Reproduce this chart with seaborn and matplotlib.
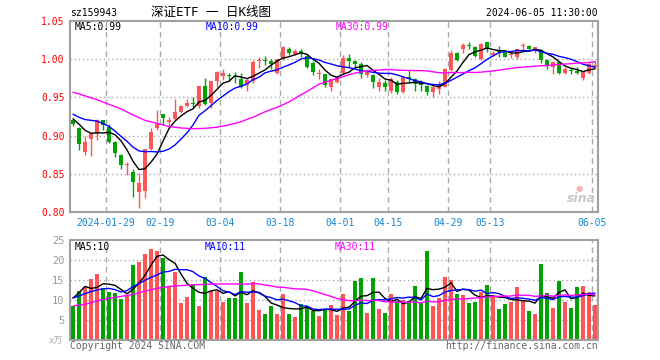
import numpy as np
import pandas as pd
import matplotlib
matplotlib.use("Agg")
import matplotlib.pyplot as plt
import seaborn as sns

# ---------------- data ----------------
opens = [0.920, 0.910, 0.879, 0.8955, 0.902, 0.920, 0.911, 0.892, 0.875, 0.861,
         0.853, 0.8266, 0.828, 0.882, 0.9096, 0.928, 0.918, 0.922, 0.931, 0.939,
         0.943, 0.9387, 0.965, 0.943, 0.972, 0.978, 0.979, 0.978, 0.9737, 0.966,
         0.971, 0.998, 0.999, 0.997, 0.982, 1.000, 1.0133, 1.007, 1.011, 1.004,
         0.9955, 0.981, 0.9806, 0.964, 0.9706, 0.9815, 1.001, 0.998, 0.994, 0.979,
         0.979, 0.963, 0.969, 0.959, 0.9706, 0.9575, 0.977, 0.974, 0.970, 0.965,
         0.9566, 0.961, 0.964, 0.986, 1.0086, 1.013, 1.0182, 1.0155, 1.000, 1.022,
         1.0055, 1.0102, 1.010, 1.0052, 1.0033, 1.0171, 1.0173, 1.0129, 1.012, 0.999,
         0.9894, 0.9968, 0.9824, 0.985, 0.985, 0.975, 0.9824, 0.990]
highs = [0.922, 0.911, 0.900, 0.905, 0.922, 0.921, 0.915, 0.893, 0.876, 0.866,
         0.856, 0.851, 0.8825, 0.910, 0.9335, 0.9285, 0.925, 0.948, 0.940, 0.948,
         0.951, 0.965, 0.975, 0.9715, 0.984, 0.987, 0.982, 0.983, 0.9816, 0.975,
         0.999, 1.003, 1.004, 1.000, 1.000, 1.017, 1.016, 1.013, 1.014, 1.005,
         0.997, 0.987, 0.981, 0.974, 0.978, 1.005, 1.007, 0.999, 0.996, 0.987,
         0.981, 0.976, 0.973, 0.977, 0.973, 0.978, 0.986, 0.975, 0.973, 0.966,
         0.965, 0.971, 0.988, 1.012, 1.010, 1.0216, 1.022, 1.017, 1.021, 1.023,
         1.011, 1.0173, 1.011, 1.010, 1.014, 1.021, 1.018, 1.016, 1.013, 1.000,
         0.998, 0.998, 0.990, 0.989, 0.9895, 0.985, 0.996, 0.997]
lows = [0.913, 0.881, 0.874, 0.873, 0.894, 0.907, 0.890, 0.872, 0.856, 0.848,
        0.819, 0.805, 0.818, 0.881, 0.907, 0.914, 0.910, 0.920, 0.929, 0.937,
        0.936, 0.936, 0.940, 0.9365, 0.964, 0.973, 0.972, 0.969, 0.962, 0.959,
        0.969, 0.989, 0.992, 0.987, 0.981, 0.999, 1.005, 1.005, 1.003, 0.988,
        0.979, 0.974, 0.964, 0.959, 0.969, 0.981, 0.990, 0.989, 0.976, 0.977,
        0.962, 0.959, 0.958, 0.956, 0.955, 0.956, 0.969, 0.958, 0.958, 0.953,
        0.951, 0.955, 0.963, 0.985, 0.998, 1.008, 1.013, 1.003, 0.999, 1.010,
        1.004, 1.0033, 1.0025, 1.001, 0.9998, 1.012, 1.012, 1.008, 0.995, 0.987,
        0.981, 0.981, 0.981, 0.980, 0.981, 0.973, 0.981, 0.988]
closes = [0.915, 0.8885, 0.892, 0.902, 0.921, 0.914, 0.892, 0.877, 0.862, 0.862,
          0.839, 0.8376, 0.8825, 0.905, 0.915, 0.9235, 0.920, 0.931, 0.939, 0.943,
          0.942, 0.965, 0.9414, 0.9715, 0.983, 0.982, 0.978, 0.977, 0.9632, 0.973,
          0.9967, 0.999, 0.998, 0.994, 1.000, 1.0164, 1.0077, 1.011, 1.007, 0.990,
          0.9837, 0.982, 0.966, 0.9737, 0.977, 1.002, 0.997, 0.994, 0.981, 0.985,
          0.9706, 0.9706, 0.963, 0.9737, 0.9575, 0.977, 0.9737, 0.9675, 0.966, 0.9575,
          0.963, 0.966, 0.9867, 1.0086, 0.999, 1.0186, 1.0175, 1.004, 1.020, 1.0134,
          1.0086, 1.0097, 1.0033, 1.0058, 1.013, 1.0176, 1.013, 1.0155, 0.999, 0.991,
          0.9968, 0.9824, 0.9867, 0.9845, 0.9815, 0.984, 0.9937, 0.993]
volumes = [8.4, 12.25, 13.25, 15.3, 16.5, 12.9, 11.9, 11.7, 10.2, 11.0,
           18.7, 19.4, 21.6, 22.7, 22.2, 20.4, 13.5, 17.1, 9.2, 10.8,
           14.0, 8.5, 15.8, 12.3, 12.3, 9.5, 10.5, 10.5, 16.9, 9.2,
           14.6, 7.5, 6.4, 8.6, 6.6, 11.4, 6.4, 5.8, 8.9, 8.6,
           7.2, 6.1, 7.5, 8.7, 6.2, 11.4, 7.2, 14.7, 15.4, 6.7,
           15.4, 7.7, 6.7, 11.4, 9.7, 9.9, 9.7, 13.4, 9.2, 22.2,
           8.4, 10.4, 15.7, 14.9, 11.4, 11.2, 9.2, 9.4, 11.9, 13.7,
           10.9, 7.7, 8.9, 9.4, 13.2, 9.9, 7.2, 6.4, 18.9, 11.7,
           7.9, 14.7, 9.4, 7.9, 13.2, 13.4, 11.9, 8.7]

# moving-average values visible before each window is complete
ma5_head = [0.922, 0.915, 0.907, 0.903]
ma10_head = [0.928, 0.924, 0.921, 0.920, 0.919, 0.916, 0.912, 0.906, 0.899]
ma30_head_x = [0, 2, 4, 6, 8, 10, 12, 14, 16, 18, 20, 22, 24, 26, 28]
ma30_head = [0.957, 0.952, 0.947, 0.941, 0.935, 0.927, 0.920, 0.916, 0.912, 0.910,
             0.909, 0.9095, 0.911, 0.914, 0.918]
vma5_head = [10.5, 11.8, 13.4, 12.9]
vma10_head = [10.5, 11.0, 11.6, 12.1, 12.5, 12.8, 12.9, 12.6, 12.0]
vma30_head_x = [0, 2, 4, 6, 8, 10, 12, 14, 16, 18, 20, 22, 24, 26, 28]
vma30_head = [8.5, 8.9, 9.8, 10.4, 10.9, 11.4, 12.2, 12.9, 13.4, 13.6,
              13.8, 13.9, 14.0, 14.0, 14.0]

tick_pos = [6, 15, 25, 35, 45, 53, 63, 70, 87]
tick_labels = ["2024-01-29", "02-19", "03-04", "03-18", "04-01", "04-15",
               "04-29", "05-13", "06-05"]
price_ticks = [0.80, 0.85, 0.90, 0.95, 1.00, 1.05]
vol_ticks = [5, 10, 15, 20, 25]
legend_price = ["MA5:0.99", "MA10:0.99", "MA30:0.99"]
legend_vol = ["MA5:10", "MA10:11", "MA30:11"]
title_code = "sz159943"
title_main = "深证ETF 一 日K线图"
title_time = "2024-06-05 11:30:00"

# ---------------- styling ----------------
sns.set_style("white")
plt.rcParams["font.family"] = ["DejaVu Sans Mono", "Noto Sans CJK SC"]

RED = "#ff5555"
GREEN = "#00a300"
GRID = "#aaaaaa"
FRAME = "#a0a0a0"
MA_COLORS = ["#000000", "#0000ff", "#ff00ff"]

W, H = 660, 360
fig = plt.figure(figsize=(W / 100, H / 100), dpi=100)
fig.patch.set_facecolor("white")


def fx(px):
    return px / W


def fy(py):
    return 1 - py / H


ax = fig.add_axes([fx(70), fy(212), fx(528), 191 / H])
axv = fig.add_axes([fx(70), fy(340), fx(528), 100 / H])

n = len(closes)
x = np.arange(n)
o = np.array(opens)
c = np.array(closes)
up = c >= o
cols = np.where(up, RED, GREEN)

df = pd.DataFrame({"x": x, "open": o, "high": highs, "low": lows, "close": c,
                   "vol": volumes, "dir": np.where(up, "up", "down")})


def ma_frame(values, window, head_x, head_y):
    s = pd.Series(values).rolling(window).mean()
    tail_x = list(range(window - 1, len(values)))
    tail_y = list(s.iloc[window - 1:].values)
    return pd.DataFrame({"x": list(head_x) + tail_x, "y": list(head_y) + tail_y})


# ---------------- price panel ----------------
for p in [0.85, 0.90, 0.95, 1.00]:
    ax.axhline(p, color=GRID, lw=1, ls=(0, (1, 2)), zorder=0)
for t in tick_pos:
    ax.axvline(t - 0.5, color=GRID, lw=1, ls=(0, (4, 3)), zorder=0)

ax.vlines(df["x"], df["low"], df["high"], colors=cols, lw=1, zorder=2)
body_bottom = np.minimum(o, c)
body_h = np.maximum(np.abs(c - o), 0.0013)
ax.bar(df["x"], body_h, bottom=body_bottom, width=0.8, color=cols, linewidth=0, zorder=3)

ma_specs = [(5, ma5_head, list(range(4))), (10, ma10_head, list(range(9))),
            (30, ma30_head, ma30_head_x)]
for (win, head, hx), col in zip(ma_specs, MA_COLORS):
    d = ma_frame(closes, win, hx, head)
    sns.lineplot(data=d, x="x", y="y", color=col, lw=1, ax=ax, estimator=None,
                 sort=False, zorder=4)

ax.set_xlim(-0.5, n - 0.5)
ax.set_ylim(0.80, 1.05)
ax.set_yticks(price_ticks)
ax.set_yticklabels([f"{v:.2f}" for v in price_ticks], color="#ff0000", fontsize=7)
ax.set_xticks([t - 0.5 for t in tick_pos])
ax.set_xticklabels(tick_labels, color="#1a86d0", fontsize=7)
ax.tick_params(axis="both", length=0, pad=4)
ax.set_xlabel("")
ax.set_ylabel("")
for sp in ax.spines.values():
    sp.set_color(FRAME)
    sp.set_linewidth(1.5)

# ---------------- volume panel ----------------
for v in [5, 10, 15, 20]:
    axv.axhline(v, color=GRID, lw=1, ls=(0, (1, 2)), zorder=0)
for t in tick_pos:
    axv.axvline(t - 0.5, color=GRID, lw=1, ls=(0, (4, 3)), zorder=0)

sns.barplot(data=df, x="x", y="vol", hue="dir", palette={"up": RED, "down": GREEN},
            native_scale=True, dodge=False, width=0.83, saturation=1, legend=False,
            linewidth=0, ax=axv, zorder=2)

vma_specs = [(5, vma5_head, list(range(4))), (10, vma10_head, list(range(9))),
             (30, vma30_head, vma30_head_x)]
for (win, head, hx), col in zip(vma_specs, MA_COLORS):
    d = ma_frame(volumes, win, hx, head)
    sns.lineplot(data=d, x="x", y="y", color=col, lw=1, ax=axv, estimator=None,
                 sort=False, zorder=4)

axv.set_xlim(-0.5, n - 0.5)
axv.set_ylim(0, 25)
axv.set_yticks(vol_ticks)
axv.set_yticklabels([str(v) for v in vol_ticks], color="#999999", fontsize=7.5)
axv.set_xticks([])
axv.tick_params(axis="both", length=0, pad=4)
axv.set_xlabel("")
axv.set_ylabel("")
for sp in axv.spines.values():
    sp.set_color(FRAME)
    sp.set_linewidth(1.5)

# ---------------- texts ----------------
fig.text(fx(70), fy(12.5), title_code, fontsize=7, va="center", ha="left", color="black")
fig.text(fx(211), fy(12.5), title_main, fontsize=9, va="center", ha="center", color="black")
fig.text(fx(598), fy(12.5), title_time, fontsize=7, va="center", ha="right", color="black")

for txt, xp, col in zip(legend_price, [75, 206, 336], MA_COLORS):
    fig.text(fx(xp), fy(27.5), txt, fontsize=7, va="center", ha="left", color=col)
for txt, xp, col in zip(legend_vol, [75, 205, 335], MA_COLORS):
    fig.text(fx(xp), fy(246.5), txt, fontsize=7, va="center", ha="left", color=col)

fig.text(fx(63), fy(341), "x万", fontsize=6.5, va="center", ha="right", color="#aaaaaa")
fig.text(fx(70), fy(346), "Copyright 2024 SINA.COM", fontsize=7, va="center",
         ha="left", color="#666666")
fig.text(fx(598), fy(346), "http://finance.sina.com.cn", fontsize=7, va="center",
         ha="right", color="#666666")

# sina watermark
fig.text(fx(581), fy(199), "sina", fontsize=9, fontweight="bold", fontstyle="italic",
         family="DejaVu Sans", va="center", ha="center", color="#c8c8c8")
fig.text(fx(579), fy(189), "●", fontsize=6, family="DejaVu Sans", va="center",
         ha="center", color="#f2b3b3")

fig.savefig("out.png", dpi=100)
